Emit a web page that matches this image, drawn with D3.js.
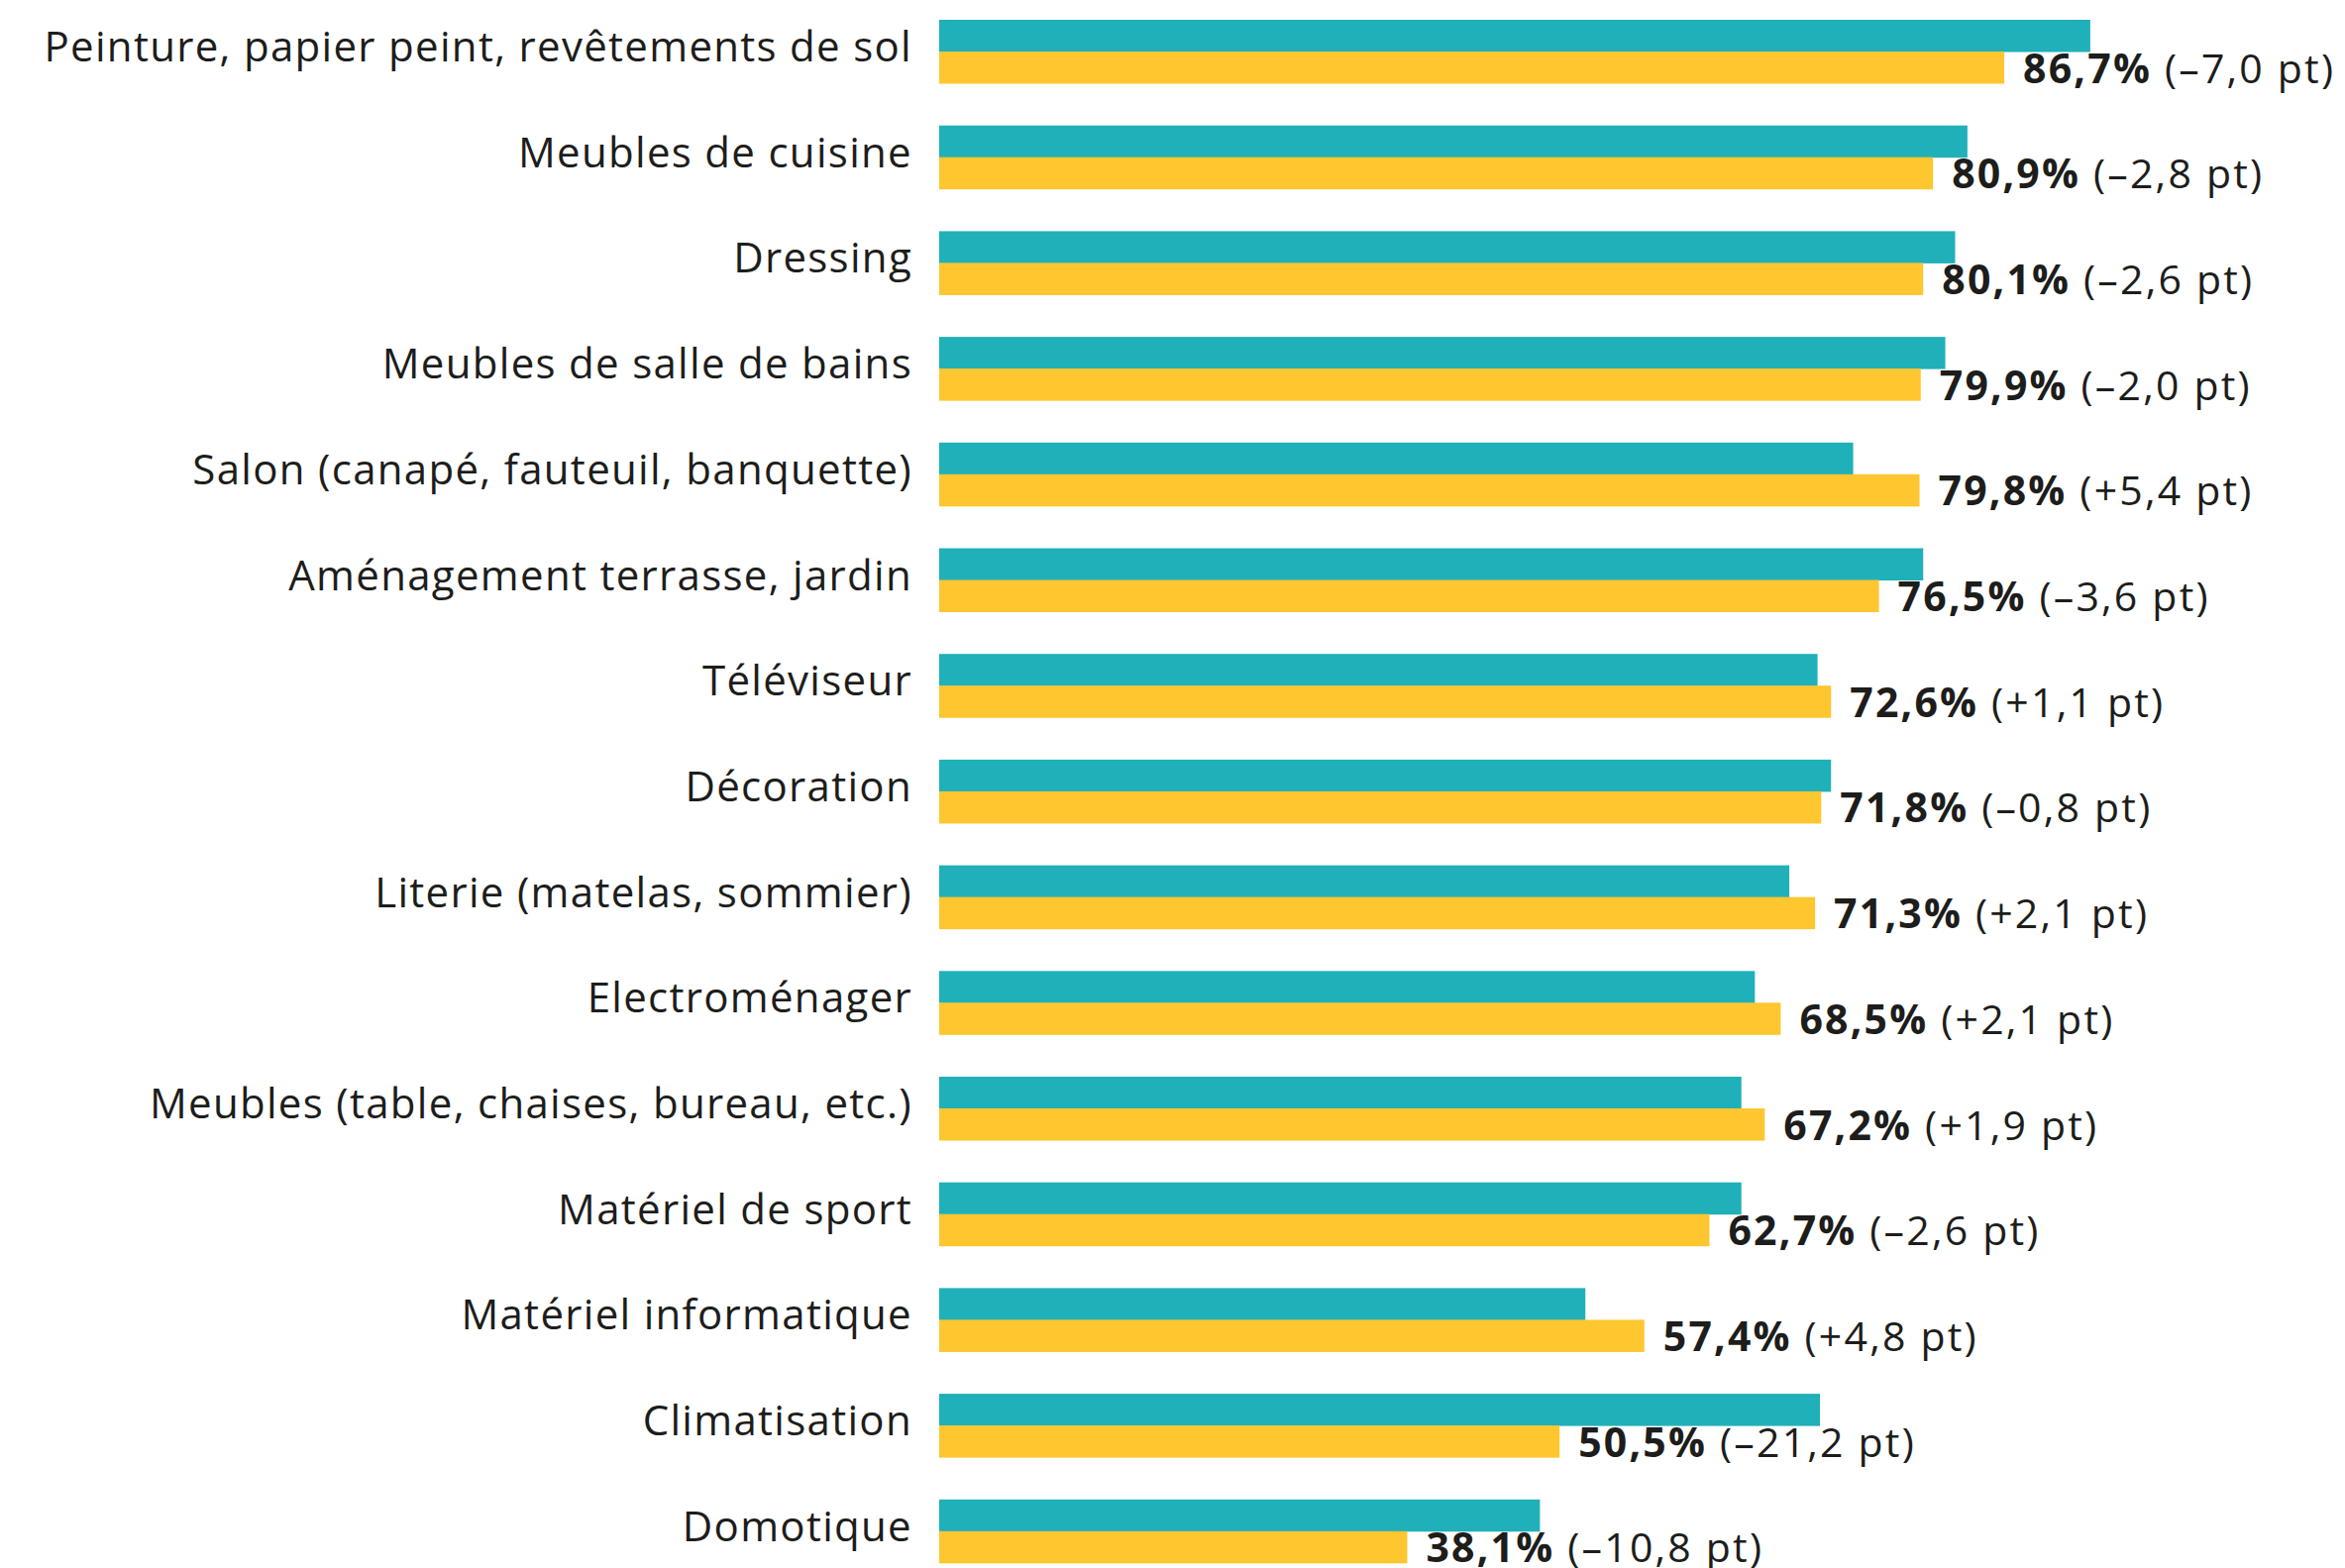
<!DOCTYPE html>
<html>
<head>
<meta charset="utf-8">
<script src="https://cdn.jsdelivr.net/npm/d3@7"></script>
<style>
  html, body { margin: 0; padding: 0; background: #fff; }
</style>
</head>
<body>
<svg id="chart"></svg>
<script>
const categories = [
  "Peinture, papier peint, revêtements de sol",
  "Meubles de cuisine",
  "Dressing",
  "Meubles de salle de bains",
  "Salon (canapé, fauteuil, banquette)",
  "Aménagement terrasse, jardin",
  "Téléviseur",
  "Décoration",
  "Literie (matelas, sommier)",
  "Electroménager",
  "Meubles (table, chaises, bureau, etc.)",
  "Matériel de sport",
  "Matériel informatique",
  "Climatisation",
  "Domotique",
];

// current year (yellow)
const current = [86.7, 80.9, 80.1, 79.9, 79.8, 76.5, 72.6, 71.8, 71.3, 68.5, 67.2, 62.7, 57.4, 50.5, 38.1];
// previous year (teal)
const previous = [93.7, 83.7, 82.7, 81.9, 74.4, 80.1, 71.5, 72.6, 69.2, 66.4, 65.3, 65.3, 52.6, 71.7, 48.9];
// change in points, as printed
const change = [-7.0, -2.8, -2.6, -2.0, 5.4, -3.6, 1.1, -0.8, 2.1, 2.1, 1.9, -2.6, 4.8, -21.2, -10.8];

const series = ["previous", "current"];
const seriesColors = { previous: "#20b0b9", current: "#fec62f" };

const width = 2367;
const height = 1583;

const rows = categories.map((c, i) => ({
  category: c,
  previous: previous[i],
  current: current[i],
  change: change[i],
}));

const fr = d3.formatLocale({ decimal: ",", thousands: " ", grouping: [3], currency: ["", "€"] });
const fmt = fr.format(".1f");
const fmtChange = (v) => (v > 0 ? "+" : "–") + fmt(Math.abs(v));

const svg = d3
  .select("#chart")
  .attr("width", width)
  .attr("height", height)
  .style("font-family", "'Open Sans', sans-serif");

const x = d3.scaleLinear().domain([0, 100]).range([948, 2188]);

const y = d3
  .scaleBand()
  .domain(categories)
  .range([20, 20 + 106.7 * 14.6])
  .paddingInner(0.4)
  .paddingOuter(0);

const ySub = d3.scaleBand().domain(series).range([0, y.bandwidth()]);

const groups = svg
  .append("g")
  .selectAll("g")
  .data(rows)
  .join("g")
  .attr("transform", (d) => `translate(0,${y(d.category)})`);

// bars
groups
  .selectAll("rect")
  .data((d) => series.map((s) => ({ key: s, value: d[s] })))
  .join("rect")
  .attr("x", x(0))
  .attr("y", (d) => ySub(d.key))
  .attr("width", (d) => x(d.value) - x(0))
  .attr("height", ySub.bandwidth() + 0.5)
  .attr("fill", (d) => seriesColors[d.key]);

// category labels
groups
  .append("text")
  .attr("x", x(0) - 27)
  .attr("y", 42)
  .attr("text-anchor", "end")
  .attr("fill", "#1d1d1b")
  .attr("font-size", "42px")
  .attr("letter-spacing", "1.3px")
  .text((d) => d.category);

// value labels
const vl = groups
  .append("text")
  .attr("x", (d) => x(d.current) + 19)
  .attr("y", y.bandwidth() - 0.5)
  .attr("fill", "#1d1d1b")
  .attr("font-size", "41px")
  .attr("letter-spacing", "2.2px");

vl.append("tspan")
  .attr("font-weight", 700)
  .text((d) => fmt(d.current) + "%");

vl.append("tspan")
  .attr("font-weight", 400)
  .text((d) => ` (${fmtChange(d.change)} pt)`);
</script>
</body>
</html>
